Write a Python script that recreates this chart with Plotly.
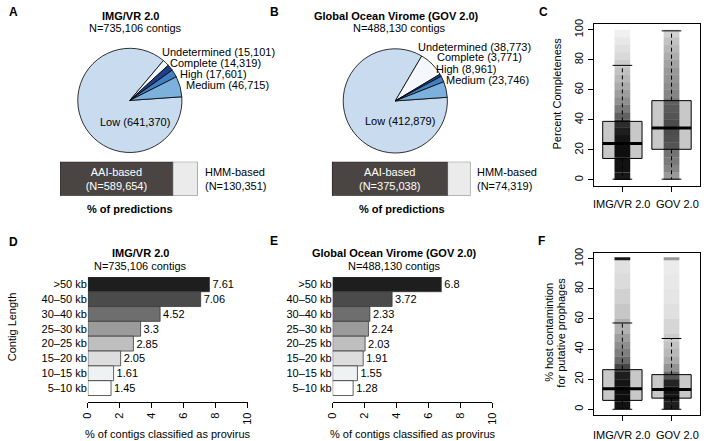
import plotly.graph_objects as go

W, H = 708, 441
FONT = "Liberation Sans, Arial, sans-serif"

# ---------------- data ----------------
pie_labels = ["Low", "Undetermined", "Complete", "High", "Medium"]
imgvr_pie = [641370, 15101, 14319, 17601, 46715]
gov_pie = [412879, 38773, 3771, 8961, 23746]
pie_colors = ["#c9dcef", "#f4f7fb", "#1f3f8a", "#3f7fc4", "#7db1dd"]

method_labels = ["AAI-based", "HMM-based"]
imgvr_method = [589654, 130351]
gov_method = [375038, 74319]

length_bins = [">50 kb", "40–50 kb", "30–40 kb", "25–30 kb",
               "20–25 kb", "15–20 kb", "10–15 kb", "5–10 kb"]
imgvr_provirus = [7.61, 7.06, 4.52, 3.3, 2.85, 2.05, 1.61, 1.45]
gov_provirus = [6.8, 3.72, 2.33, 2.24, 2.03, 1.91, 1.55, 1.28]
bar_greys = ["#1e1e1e", "#4b4b4b", "#6e6e6e", "#9b9b9b",
             "#bfbfbf", "#dddddd", "#eff2f2", "#ffffff"]

box_groups = ["IMG/VR 2.0", "GOV 2.0"]
# panel C: percent completeness (box statistics)
compl_low = [0.5, 0.5]
compl_q1 = [14.3, 20.4]
compl_med = [24.3, 34.6]
compl_q3 = [39.0, 52.8]
compl_up = [76.3, 99.3]
# panel F: % host contamination (box statistics)
cont_low = [0.0, 0.0]
cont_q1 = [5.9, 7.4]
cont_med = [13.6, 13.1]
cont_q3 = [26.3, 23.0]
cont_up = [57.3, 47.0]

# point-cloud darkness (per y-bin)
compl_edges = [0, 5, 10, 15, 20, 25, 30, 35, 40, 45, 50, 55, 60, 65, 70,
               75, 80, 85, 90, 95, 100]
compl_dens_imgvr = [0.90, 0.93, 0.93, 0.93, 0.93, 0.90, 0.85, 0.78, 0.62, 0.52,
                    0.44, 0.38, 0.33, 0.28, 0.24, 0.20, 0.15, 0.12, 0.09, 0.06]
compl_dens_gov = [0.40, 0.48, 0.52, 0.55, 0.58, 0.60, 0.62, 0.62, 0.58, 0.55,
                  0.52, 0.48, 0.45, 0.42, 0.40, 0.36, 0.32, 0.28, 0.24, 0.18]
cont_edges = [0, 5, 10, 15, 20, 25, 30, 35, 40, 45, 50, 60, 70, 80, 90, 99, 101]
cont_dens_imgvr = [0.93, 0.93, 0.93, 0.90, 0.85, 0.72, 0.58, 0.50, 0.44, 0.38,
                   0.30, 0.22, 0.18, 0.14, 0.12, 0.90]
cont_dens_gov = [0.88, 0.90, 0.90, 0.82, 0.58, 0.42, 0.33, 0.28, 0.24, 0.20,
                 0.16, 0.12, 0.10, 0.09, 0.08, 0.40]


def px(x):
    return x / W


def py(y):
    return 1 - y / H


def dx(a, b):
    return [a / W, b / W]


def dy(top, bottom):
    return [1 - bottom / H, 1 - top / H]


fig = go.Figure()
ann = []


def text(x, y, t, size=11, bold=False, xanchor="center", color="black", angle=0, align="center"):
    if bold:
        t = "<b>" + t + "</b>"
    ann.append(dict(x=px(x), y=py(y), xref="paper", yref="paper", text=t, showarrow=False,
                    xanchor=xanchor, yanchor="middle", textangle=angle, align=align,
                    borderpad=0, font=dict(size=size, color=color, family=FONT)))


# ---------------- pies ----------------
for vals, cx, cy in [(imgvr_pie, 126, 96.5), (gov_pie, 396, 97)]:
    r = 53
    fig.add_trace(go.Pie(values=vals, labels=pie_labels, sort=False, direction="clockwise",
                         rotation=86, marker=dict(colors=pie_colors, line=dict(color="black", width=0.8)),
                         textinfo="none", hoverinfo="skip", showlegend=False,
                         domain=dict(x=dx(cx - r, cx + r), y=dy(cy - r, cy + r))))

pie_lab_pos_a = {"Undetermined": (158, 48), "Complete": (166, 58.5), "High": (176, 69.5), "Medium": (182, 81)}
pie_lab_pos_b = {"Undetermined": (418, 42), "Complete": (437, 53), "High": (436, 64.5), "Medium": (447, 76)}
for vals, pos in [(imgvr_pie, pie_lab_pos_a), (gov_pie, pie_lab_pos_b)]:
    for lab, v in zip(pie_labels, vals):
        if lab in pos:
            text(pos[lab][0], pos[lab][1], f"{lab} ({v:,})", xanchor="left")
text(131, 118, f"Low ({imgvr_pie[0]:,})")
text(401, 117, f"Low ({gov_pie[0]:,})")

# ---------------- method bars (A, B) ----------------
layout_axes = {}
for k, (vals, x0, x1) in enumerate([(imgvr_method, 55, 195), (gov_method, 331.5, 472.5)]):
    ax = "" if k == 0 else str(k + 1)
    xa, ya = "x" + ax, "y" + ax
    fig.add_trace(go.Bar(x=[vals[0]], y=[0], base=[0], orientation="h", width=1, xaxis=xa, yaxis=ya,
                         marker=dict(color="#4a4543", line=dict(color="black", width=0.8)),
                         text=[f"{method_labels[0]}<br>(N={vals[0]:,})"], textposition="inside",
                         insidetextanchor="middle", textangle=0, constraintext="none",
                         textfont=dict(color="white", size=11, family=FONT),
                         hoverinfo="skip", showlegend=False))
    fig.add_trace(go.Bar(x=[vals[1]], y=[0], base=[vals[0]], orientation="h", width=1, xaxis=xa, yaxis=ya,
                         marker=dict(color="#ebebeb", line=dict(color="#555555", width=0.8)),
                         hoverinfo="skip", showlegend=False))
    layout_axes["xaxis" + ax] = dict(domain=dx(x0, x1), range=[0, sum(vals)], visible=False, anchor=ya)
    layout_axes["yaxis" + ax] = dict(domain=dy(158.5, 193), range=[-0.5, 0.5], visible=False, anchor=xa)
    ann.append(dict(x=sum(vals), y=0, xref=xa, yref=ya, xshift=6, xanchor="left", yanchor="middle",
                    showarrow=False, align="left", borderpad=0,
                    text=f"{method_labels[1]}<br>(N={vals[1]:,})",
                    font=dict(size=11, family=FONT, color="black")))
text(126, 206, "% of predictions", bold=True)
text(403, 206, "% of predictions", bold=True)

# ---------------- provirus bars (D, E) ----------------
for k, (vals, x0) in enumerate([(imgvr_provirus, 83.3), (gov_provirus, 332.3)]):
    ax = str(k + 4)
    xa, ya = "x" + ax, "y" + ax
    fig.add_trace(go.Bar(x=vals, y=length_bins, orientation="h", width=1, xaxis=xa, yaxis=ya,
                         marker=dict(color=bar_greys, line=dict(color="#3a3a3a", width=0.8)),
                         text=[str(v) for v in vals], textposition="outside", cliponaxis=False,
                         constraintext="none", textfont=dict(size=11, family=FONT, color="black"),
                         hoverinfo="skip", showlegend=False))
    layout_axes["xaxis" + ax] = dict(domain=dx(x0, x0 + 162.5), range=[0, 10], tickvals=[0, 2, 4, 6, 8, 10],
                                     ticks="outside", ticklen=5, tickangle=-90, showline=True,
                                     linecolor="black", linewidth=1, tickcolor="black", showgrid=False,
                                     zeroline=False, anchor=ya, fixedrange=True,
                                     tickfont=dict(size=11, family=FONT, color="black"))
    layout_axes["yaxis" + ax] = dict(domain=dy(275, 401.7), type="category",
                                     categoryorder="array", categoryarray=list(reversed(length_bins)),
                                     range=[-0.947, 7.5], showline=False, ticks="", showgrid=False,
                                     anchor=xa, tickfont=dict(size=11, family=FONT, color="black"))
text(136.7, 251, "IMG/VR 2.0", bold=True)
text(136.7, 264, f"N={sum(imgvr_pie):,} contigs")
text(395, 251, "Global Ocean Virome (GOV 2.0)", bold=True)
text(395, 264, f"N={sum(gov_pie):,} contigs")
text(164.5, 434, "% of contigs classified as provirus")
text(414, 434, "% of contigs classified as provirus")
text(6, 325, "Contig Length", angle=-90)

# titles for A, B
text(127, 11, "IMG/VR 2.0", bold=True)
text(131.5, 23, f"N={sum(imgvr_pie):,} contigs")
text(397, 11, "Global Ocean Virome (GOV 2.0)", bold=True)
text(400, 23, f"N={sum(gov_pie):,} contigs")


# ---------------- box panels (C, F) ----------------
def box_panel(ax, top, bottom, low, q1, med, q3, up, edges, dens_list, label_y):
    xa, ya = "x" + ax, "y" + ax
    gx = [1, 2]
    fig.add_trace(go.Bar(x=gx, y=[b - a for a, b in zip(q1, q3)], base=q1, width=0.8, xaxis=xa, yaxis=ya,
                         marker=dict(color="#c8c8c8", line=dict(color="black", width=1)),
                         hoverinfo="skip", showlegend=False))
    for g, dens in zip(gx, dens_list):
        fig.add_trace(go.Bar(x=[g] * len(dens), y=[edges[i + 1] - edges[i] for i in range(len(dens))],
                             base=edges[:-1], width=0.32, xaxis=xa, yaxis=ya,
                             marker=dict(color=[f"rgba(0,0,0,{a})" for a in dens], line=dict(width=0)),
                             hoverinfo="skip", showlegend=False))
    wx, wy = [], []
    for g, l, a, b, u in zip(gx, low, q1, q3, up):
        wx += [g, g, None, g, g, None]
        wy += [b, u, None, a, l, None]
    fig.add_trace(go.Scatter(x=wx, y=wy, mode="lines", xaxis=xa, yaxis=ya,
                             line=dict(color="black", width=1, dash="4px,3px"),
                             hoverinfo="skip", showlegend=False))
    cx, cy = [], []
    for g, l, u in zip(gx, low, up):
        cx += [g - 0.2, g + 0.2, None, g - 0.2, g + 0.2, None]
        cy += [u, u, None, l, l, None]
    fig.add_trace(go.Scatter(x=cx, y=cy, mode="lines", xaxis=xa, yaxis=ya,
                             line=dict(color="black", width=1), hoverinfo="skip", showlegend=False))
    mx, my = [], []
    for g, m in zip(gx, med):
        mx += [g - 0.4, g + 0.4, None]
        my += [m, m, None]
    fig.add_trace(go.Scatter(x=mx, y=my, mode="lines", xaxis=xa, yaxis=ya,
                             line=dict(color="black", width=3), hoverinfo="skip", showlegend=False))
    layout_axes["xaxis" + ax] = dict(domain=dx(598, 706), range=[0.42, 2.58], tickvals=gx,
                                     showticklabels=False,
                                     ticks="outside", ticklen=5, showline=True, mirror=True,
                                     linecolor="black", linewidth=1, tickcolor="black", showgrid=False,
                                     zeroline=False, anchor=ya)
    layout_axes["yaxis" + ax] = dict(domain=dy(top, bottom), range=[-4, 104], tickvals=[0, 20, 40, 60, 80, 100],
                                     ticks="outside", ticklen=5, tickangle=-90, showline=True, mirror=True,
                                     linecolor="black", linewidth=1, tickcolor="black", showgrid=False,
                                     zeroline=False, anchor=xa,
                                     tickfont=dict(size=11, family=FONT, color="black"))
    text(626, label_y, box_groups[0])
    text(683, label_y, box_groups[1])


box_panel("3", 19, 183, compl_low, compl_q1, compl_med, compl_q3, compl_up,
          compl_edges, [compl_dens_imgvr, compl_dens_gov], 201.5)
box_panel("6", 250.5, 415, cont_low, cont_q1, cont_med, cont_q3, cont_up,
          cont_edges, [cont_dens_imgvr, cont_dens_gov], 434.5)
text(560, 90, "Percent Completeness", angle=-90)
text(553, 331, "% host contamintion", angle=-90)
text(565, 331, "for putative prophages", angle=-90)

# panel letters
for lt, x, y in [("A", 8, 7), ("B", 273, 7), ("C", 547, 7), ("D", 8, 240), ("E", 273, 239), ("F", 545, 239)]:
    text(x, y, lt, size=12, bold=True)

fig.update_layout(width=W, height=H, margin=dict(l=0, r=0, t=0, b=0), paper_bgcolor="white",
                  plot_bgcolor="white", barmode="overlay", showlegend=False, annotations=ann,
                  hovermode=False,
                  font=dict(family=FONT, size=11, color="black"), **layout_axes)

fig.write_html("out.html", config={"displayModeBar": False, "staticPlot": True},
               post_script="document.body.style.margin='0';document.body.style.padding='0';"
                           "document.body.style.overflow='hidden';")
